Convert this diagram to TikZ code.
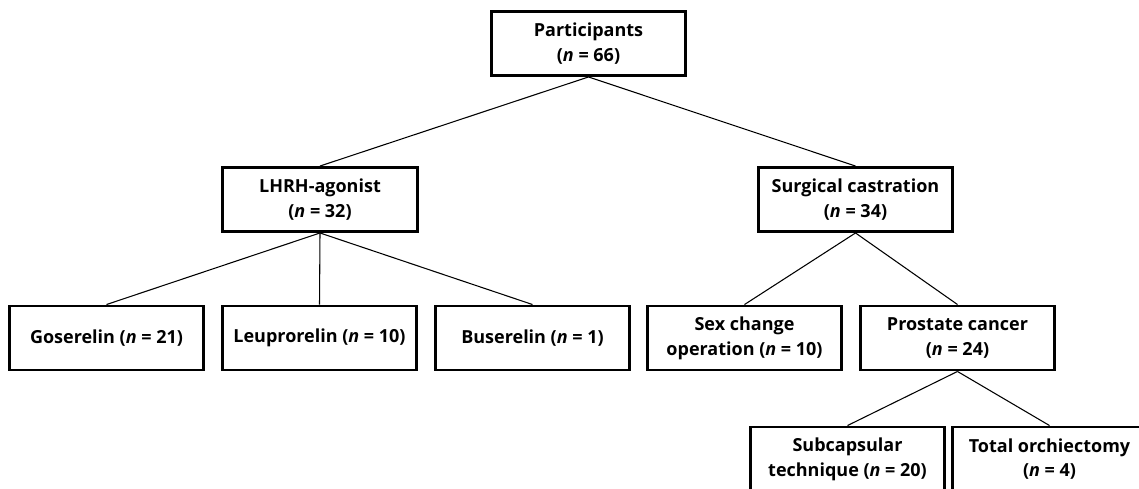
\documentclass[tikz,border=0pt]{standalone}
\usepackage{fontspec}
\setmainfont{Open Sans}
\begin{document}
\begin{tikzpicture}[x=0.75pt,y=-0.75pt]
\tikzset{
    box/.style={draw,line width=2.2pt,fill=white,minimum width=146pt,minimum height=48pt,
        align=center,font=\bfseries\fontsize{13.5}{18.5}\selectfont,inner sep=2pt},
    link/.style={line width=0.8pt}
}
\useasboundingbox (0,0) rectangle (1139,489);
% top
\node[box] (part) at (588.5,43.5) {Participants\\(\textit{n} = 66)};
% second level
\node[box] (lhrh) at (320,199.5) {LHRH-agonist\\(\textit{n} = 32)};
\node[box] (surg) at (855.5,199.5) {Surgical castration\\(\textit{n} = 34)};
% third level
\node[box] (gos) at (106.5,338) {Goserelin (\textit{n} = 21)};
\node[box] (leu) at (319.5,338) {Leuprorelin (\textit{n} = 10)};
\node[box] (bus) at (532.5,338) {Buserelin (\textit{n} = 1)};
\node[box] (sex) at (744.5,338) {Sex change\\operation (\textit{n} = 10)};
\node[box] (pros) at (957.5,338) {Prostate cancer\\(\textit{n} = 24)};
% fourth level
\node[box] (subc) at (847.5,459) {Subcapsular\\technique (\textit{n} = 20)};
\node[box] (orch) at (1049.5,459) {Total orchiectomy\\(\textit{n} = 4)};
% connectors
\draw[link] (part.south) -- (lhrh.north);
\draw[link] (part.south) -- (surg.north);
\draw[link] (lhrh.south) -- (gos.north);
\draw[link] (lhrh.south) -- (leu.north);
\draw[link] (lhrh.south) -- (bus.north);
\draw[link] (surg.south) -- (sex.north);
\draw[link] (surg.south) -- (pros.north);
\draw[link] (pros.south) -- (subc.north);
\draw[link] (pros.south) -- (orch.north);
\end{tikzpicture}
\end{document}
